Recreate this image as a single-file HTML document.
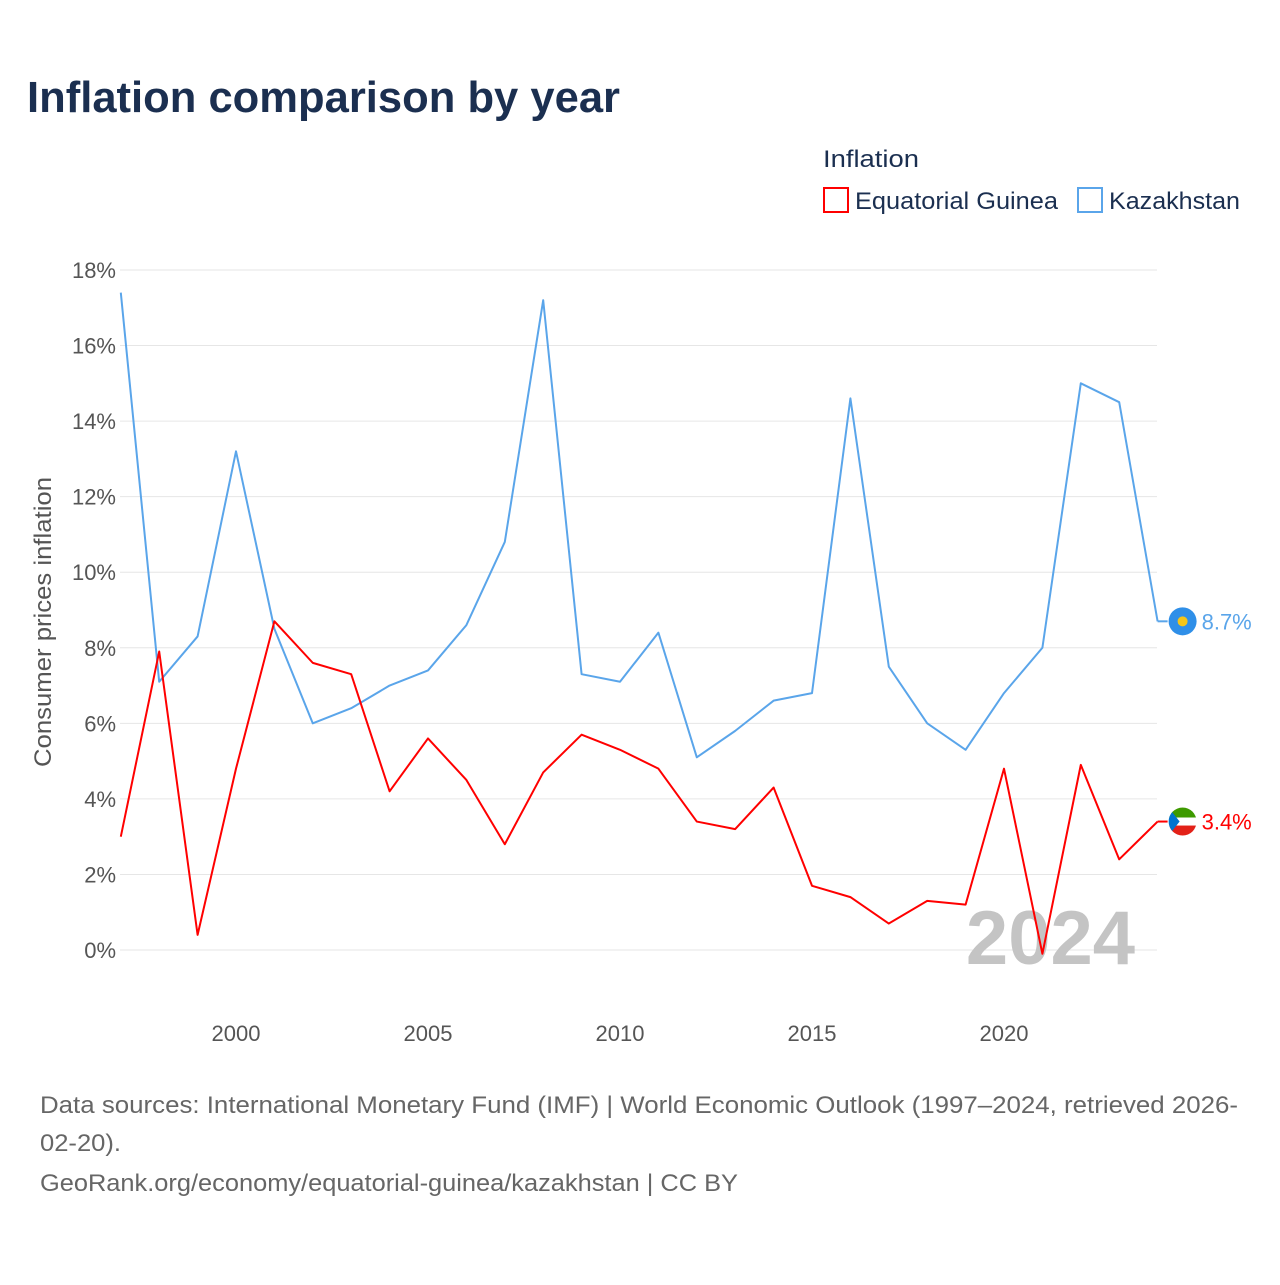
<!DOCTYPE html>
<html><head><meta charset="utf-8"><style>
body{margin:0;width:1280px;height:1280px;background:#fff;font-family:"Liberation Sans",sans-serif;overflow:hidden}
</style></head><body>
<svg width="1280" height="1280" xmlns="http://www.w3.org/2000/svg">
<text x="27" y="112" font-size="44" font-weight="bold" fill="#1b2f50" textLength="593" lengthAdjust="spacingAndGlyphs">Inflation comparison by year</text>
<text x="823" y="167" font-size="24" fill="#1b2f50" textLength="96" lengthAdjust="spacingAndGlyphs">Inflation</text>
<g><rect x="824" y="188" width="24" height="24" fill="none" stroke="#ff0000" stroke-width="2"/><text x="855" y="209" font-size="24" fill="#1b2f50" textLength="203" lengthAdjust="spacingAndGlyphs">Equatorial Guinea</text></g>
<g><rect x="1078" y="188" width="24" height="24" fill="none" stroke="#5aa5ea" stroke-width="2"/><text x="1109" y="209" font-size="24" fill="#1b2f50" textLength="131" lengthAdjust="spacingAndGlyphs">Kazakhstan</text></g>
<g id="grid"></g>
<g id="yticks"></g>
<g id="xticks"></g>
<text transform="translate(51,622) rotate(-90)" text-anchor="middle" font-size="24" fill="#555" textLength="290" lengthAdjust="spacingAndGlyphs">Consumer prices inflation</text>
<text x="1135" y="964" text-anchor="end" font-size="76" font-weight="bold" fill="#c4c4c4">2024</text>
<g id="series"></g>
<text x="40" y="1113" font-size="24" fill="#666" textLength="1198" lengthAdjust="spacingAndGlyphs">Data sources: International Monetary Fund (IMF) | World Economic Outlook (1997–2024, retrieved 2026-</text>
<text x="40" y="1151" font-size="24" fill="#666" textLength="81" lengthAdjust="spacingAndGlyphs">02-20).</text>
<text x="40" y="1191" font-size="24" fill="#666" textLength="698" lengthAdjust="spacingAndGlyphs">GeoRank.org/economy/equatorial-guinea/kazakhstan | CC BY</text>
</svg>
<script>
const years=[1997,1998,1999,2000,2001,2002,2003,2004,2005,2006,2007,2008,2009,2010,2011,2012,2013,2014,2015,2016,2017,2018,2019,2020,2021,2022,2023,2024];
const kazakhstan=[17.4,7.1,8.3,13.2,8.5,6.0,6.4,7.0,7.4,8.6,10.8,17.2,7.3,7.1,8.4,5.1,5.8,6.6,6.8,14.6,7.5,6.0,5.3,6.8,8.0,15.0,14.5,8.7];
const eqGuinea=[3.0,7.9,0.4,4.8,8.7,7.6,7.3,4.2,5.6,4.5,2.8,4.7,5.7,5.3,4.8,3.4,3.2,4.3,1.7,1.4,0.7,1.3,1.2,4.8,-0.1,4.9,2.4,3.4];
const yTicks=[0,2,4,6,8,10,12,14,16,18];
const xTicks=[2000,2005,2010,2015,2020];
const NS="http://www.w3.org/2000/svg";
const X=y=>120.8+(y-1997)*38.4;
const Y=v=>950-v*37.78;
function mk(tag,attrs,parent,text){const e=document.createElementNS(NS,tag);for(const k in attrs)e.setAttribute(k,attrs[k]);if(text!==undefined)e.textContent=text;parent.appendChild(e);return e;}
const grid=document.getElementById('grid'),yt=document.getElementById('yticks'),xt=document.getElementById('xticks'),ser=document.getElementById('series');
yTicks.forEach(t=>{
 const l=mk('line',{x1:120,x2:1157,y1:Y(t),y2:Y(t),stroke:'#e6e6e6','stroke-width':1},grid);
 
 
 const tx=mk('text',{x:116,y:Y(t)+8,'text-anchor':'end','font-size':22,fill:'#555'},yt,t+'%');
 
 
});
xTicks.forEach(t=>{
 const tx=mk('text',{x:X(t),y:1041,'text-anchor':'middle','font-size':22,fill:'#555'},xt,String(t));
 
 
});
function line(vals,color,name){
 const p=mk('polyline',{points:vals.map((v,i)=>X(years[i])+','+Y(v)).join(' '),fill:'none',stroke:color,'stroke-width':2,'stroke-linejoin':'round'},ser);
 
 
 const last=vals[vals.length-1],lx=X(years[years.length-1]),ly=Y(last);
 const c=mk('line',{x1:lx,x2:lx+10,y1:ly,y2:ly,stroke:color,'stroke-width':2},ser);
 
 
 const lab=mk('text',{x:lx+44,y:ly+8,'font-size':22,fill:color},ser,last.toFixed(1)+'%');
 
 
 return [lx+25,ly];
}
const [kx,ky]=line(kazakhstan,'#5aa5ea','kazakhstan');
const [ex,ey]=line(eqGuinea,'#ff0000','equatorial-guinea');
const kf=mk('g',{},ser);


mk('circle',{cx:kx,cy:ky,r:14,fill:'#2f8fe8'},kf);
mk('circle',{cx:kx,cy:ky,r:5,fill:'#f5c518'},kf);
const ef=mk('g',{},ser);


mk('clipPath',{id:'ec'},ef);
mk('circle',{cx:ex,cy:ey,r:14},document.getElementById('ec'));
const eg=mk('g',{'clip-path':'url(#ec)'},ef);
mk('rect',{x:ex-14,y:ey-14,width:28,height:10,fill:'#3e9a00'},eg);
mk('rect',{x:ex-14,y:ey-4,width:28,height:8,fill:'#fff'},eg);
mk('rect',{x:ex-14,y:ey+4,width:28,height:10,fill:'#e32118'},eg);
mk('polygon',{points:(ex-14)+','+(ey-14)+' '+(ex-3)+','+ey+' '+(ex-14)+','+(ey+14),fill:'#0073ce'},eg);
</script>
</body></html>
